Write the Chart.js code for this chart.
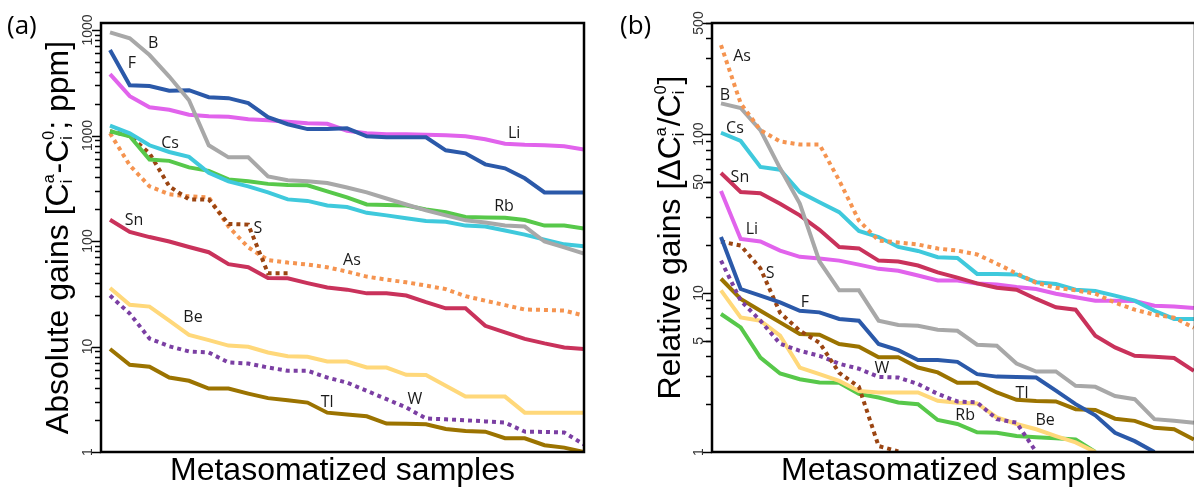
<!DOCTYPE html>
<html>
<head>
<meta charset="utf-8">
<script src="https://cdn.jsdelivr.net/npm/chart.js@4.4.1/dist/chart.umd.min.js"></script>
<style>
  html, body { margin: 0; padding: 0; background: #fff; overflow: hidden; }
  #wrap { position: relative; width: 1194px; height: 488px; overflow: hidden; }
  canvas { position: absolute; top: 0; }
  #absChart { left: 0; }
  #relChart { left: 600px; }
</style>
</head>
<body>
<div id="wrap">
  <canvas id="absChart" width="600" height="488"></canvas>
  <canvas id="relChart" width="620" height="488"></canvas>
</div>
<script>
// sample rank (x) shared by both panels
const samples = Array.from({ length: 25 }, (_, i) => i + 1);

// (a) absolute gains, ppm
const absB  = [9510, 8340, 5790, 3620, 2160, 808, 621, 621, 410, 376, 368, 354, 322, 289, 253, 222, 195, 175, 157, 150, 140, 137, 99, 87, 76];
const absF  = [6460, 3000, 2940, 2660, 2690, 2310, 2260, 2030, 1490, 1280, 1150, 1150, 1170, 984, 962, 962, 962, 724, 678, 533, 489, 393, 289, 289, 289];
const absLi = [3820, 2360, 1855, 1757, 1575, 1524, 1505, 1427, 1396, 1351, 1307, 1293, 1110, 1050, 1028, 1028, 1017, 1005, 984, 921, 835, 817, 808, 790, 735];
const absCs = [1238, 1050, 808, 698, 628, 443, 368, 330, 289, 248, 240, 217, 210, 185, 175, 164, 155, 152, 140, 137, 126, 115, 103, 93, 89];
const absRb = [1097, 984, 591, 575, 499, 462, 384, 368, 348, 340, 337, 295, 259, 222, 220, 217, 199, 187, 169, 167, 166, 158, 140, 140, 131];
const absS  = [1097, 995, 678, 330, 248, 248, 145, 143, 49.4, 49.4];
const absAs = [1050, 522, 330, 277, 265, 259, 137, 87, 66, 62.5, 59.8, 56.4, 51.3, 46, 43, 40.6, 37.8, 35, 30, 27.2, 24.7, 22.4, 22.2, 21.9, 19.6];
const absSn = [159, 122, 109, 98.9, 87.7, 78.3, 60.4, 56.4, 44.5, 44.4, 39.9, 36.2, 34.6, 31.9, 31.9, 30.4, 26.3, 23, 23, 15.7, 13.6, 11.8, 10.7, 9.8, 9.46];
const absBe = [35.9, 24.9, 23.9, 17.6, 12.9, 11.5, 10.2, 9.94, 8.78, 8.08, 7.99, 7.21, 7.21, 6.32, 6.32, 5.39, 5.36, 4.24, 3.35, 3.35, 3.35, 2.36, 2.36, 2.36, 2.36];
const absW  = [30.4, 20.5, 11.9, 10.05, 8.97, 8.78, 7.05, 6.9, 6.32, 5.89, 5.89, 5.08, 4.55, 3.8, 3.17, 2.64, 2.08, 2.04, 2.0, 1.95, 1.9, 1.56, 1.55, 1.53, 1.18];
const absTl = [9.46, 6.71, 6.42, 5.08, 4.73, 3.99, 3.99, 3.58, 3.24, 3.1, 2.94, 2.36, 2.27, 2.18, 1.86, 1.85, 1.83, 1.65, 1.58, 1.56, 1.35, 1.35, 1.16, 1.1, 1.0];

// (b) relative gains
const relAs = [363, 156, 106, 90, 86, 86, 51.1, 28.6, 21.4, 20.8, 20.2, 19.05, 18.5, 17.5, 15.3, 13.3, 11.6, 10.8, 10.4, 9.91, 8.7, 7.86, 7.31, 7.0, 6.05];
const relB  = [156, 146, 106, 60.9, 36.6, 15.8, 10.4, 10.4, 6.7, 6.29, 6.23, 5.88, 5.79, 4.73, 4.66, 3.6, 3.21, 3.21, 2.61, 2.57, 2.25, 2.15, 1.61, 1.57, 1.53];
const relCs = [102, 90.5, 62.1, 59.7, 43.2, 37.3, 32.3, 24.6, 22.5, 19.5, 18.4, 16.8, 16.6, 13.2, 13.2, 13.1, 11.7, 11.4, 10.5, 10.3, 9.63, 8.96, 7.74, 6.87, 6.87];
const relSn = [56.9, 43.2, 42.5, 36.5, 30.8, 25.0, 19.5, 19.1, 16.0, 15.8, 14.9, 13.5, 12.5, 11.5, 10.8, 10.5, 9.18, 8.13, 7.86, 5.39, 4.55, 4.03, 3.97, 3.9, 3.24];
const relLi = [43.8, 21.9, 21.1, 18.5, 16.9, 16.5, 16.0, 15.1, 14.2, 13.8, 12.9, 12.0, 12.0, 11.5, 11.3, 10.9, 10.6, 9.91, 9.42, 8.96, 8.94, 8.92, 8.33, 8.22, 8.05];
const relF  = [22.5, 10.6, 9.63, 8.74, 7.74, 7.56, 6.87, 6.7, 4.78, 4.37, 3.79, 3.79, 3.69, 3.09, 2.98, 2.96, 2.94, 2.43, 2.0, 1.7, 1.32, 1.17, 1.0];
const relS  = [21.1, 19.9, 14.3, 7.52, 5.79, 4.87, 3.15, 2.57, 1.09, 1.01];
const relW  = [16.0, 8.96, 6.7, 4.8, 4.33, 4.03, 3.59, 3.34, 2.97, 2.94, 2.68, 2.32, 2.08, 2.05, 1.61, 1.53, 1.0];
const relTl = [12.3, 9.18, 7.74, 6.54, 5.52, 5.47, 4.78, 4.59, 3.94, 3.94, 3.4, 3.17, 2.73, 2.73, 2.37, 2.13, 2.09, 2.08, 1.86, 1.84, 1.62, 1.57, 1.42, 1.39, 1.2];
const relBe = [10.4, 7.03, 6.7, 5.39, 3.4, 3.09, 2.8, 2.42, 2.37, 2.37, 2.37, 2.1, 2.04, 2.02, 1.65, 1.5, 1.39, 1.26, 1.15, 1.0];
const relRb = [7.38, 6.08, 3.93, 3.12, 2.87, 2.74, 2.73, 2.32, 2.2, 2.05, 2.0, 1.59, 1.5, 1.33, 1.32, 1.26, 1.24, 1.22, 1.2, 1.0];

// y tick values and their printed labels
const absTickValues = [1, 10, 100, 1000, 10000];
const absTickLabels = ['1', '10', '100', '1000', '1000'];
const relTickValues = [1, 5, 10, 50, 100, 500];
const relTickLabels = ['1', '5', '10', '50', '100', '500'];

// element names written next to the curves: [name, sample, value]
const absNames = [['B', 3.18, 7520], ['F', 2.11, 4855], ['Cs', 4.04, 844], ['Li', 21.46, 1050], ['Rb', 20.95, 213],
  ['S', 8.49, 131], ['As', 13.25, 65.3], ['Sn', 2.22, 157], ['Be', 5.2, 18.8], ['Tl', 11.99, 2.92], ['W', 16.44, 3.12]];
const relNames = [['As', 2.07, 309], ['B', 1.2, 176], ['Cs', 1.71, 109], ['Sn', 1.96, 53.4], ['Li', 2.57, 25.1],
  ['S', 3.49, 13.3], ['F', 5.26, 8.7], ['W', 9.17, 3.34], ['Tl', 16.28, 2.32], ['Rb', 13.39, 1.69], ['Be', 17.45, 1.57]];

const colors = {
  B: '#a8a8a8', F: '#2b59a9', Li: '#e163ec', Cs: '#3fc9dc', Rb: '#57c84a', Sn: '#c9325b',
  Be: '#ffd87a', Tl: '#9b7300', S: '#9b4512', As: '#f59450', W: '#7b3fa3'
};
const dotted = ['S', 'As', 'W'];

function series(name, values) {
  return {
    label: name,
    data: values.map((v, i) => ({ x: samples[i], y: v })),
    borderColor: colors[name],
    borderWidth: 4,
    borderDash: dotted.includes(name) ? [4, 4] : [],
    borderCapStyle: 'butt',
    pointRadius: 0,
    tension: 0,
    fill: false
  };
}

function logMinors(maxValue) {
  const out = [];
  for (let d = 1; d < maxValue; d *= 10) {
    for (let k = 2; k <= 9; k++) if (k * d <= maxValue) out.push(k * d);
  }
  return out;
}

// text with stacked sub/superscripts, centred on the origin, baseline at y=0
function drawRich(ctx, parts, size) {
  const big = size + 'px "Liberation Sans", Arial, sans-serif';
  const small = Math.round(size * 0.5) + 'px "Liberation Sans", Arial, sans-serif';
  const widths = parts.map(p => {
    if (typeof p === 'string') { ctx.font = big; return ctx.measureText(p).width; }
    ctx.font = small;
    return Math.max(ctx.measureText(p.sub).width, ctx.measureText(p.sup).width) + 1;
  });
  let x = -widths.reduce((s, w) => s + w, 0) / 2;
  ctx.textAlign = 'left';
  ctx.textBaseline = 'alphabetic';
  parts.forEach((p, i) => {
    if (typeof p === 'string') {
      ctx.font = big;
      ctx.fillText(p, x, 0);
    } else {
      ctx.font = small;
      ctx.fillText(p.sup, x, -size * 0.45);
      ctx.fillText(p.sub, x, size * 0.13);
    }
    x += widths[i];
  });
}

function makeDecor(cfg) {
  return {
    id: 'decor',
    afterDraw(chart) {
      const { ctx, chartArea: a, scales: { x, y } } = chart;
      ctx.save();
      ctx.fillStyle = '#000';
      ctx.strokeStyle = '#000';

      // box around the plot
      ctx.lineWidth = 2.5;
      ctx.strokeRect(a.left, a.top, a.right - a.left, a.bottom - a.top);

      // outward tick marks on the log axis
      ctx.lineWidth = 1.5;
      const tick = (v, len) => {
        const py = Math.round(y.getPixelForValue(v)) + 0.5;
        ctx.beginPath();
        ctx.moveTo(a.left - len, py);
        ctx.lineTo(a.left, py);
        ctx.stroke();
      };
      logMinors(cfg.yMax).forEach(v => tick(v, 6));
      cfg.tickValues.forEach(v => tick(v, 9));

      // rotated tick labels
      ctx.fillStyle = '#333';
      ctx.font = '14px "Liberation Sans", Arial, sans-serif';
      ctx.textAlign = 'center';
      ctx.textBaseline = 'alphabetic';
      cfg.tickValues.forEach((v, i) => {
        ctx.save();
        ctx.translate(a.left - 9, y.getPixelForValue(v));
        ctx.rotate(-Math.PI / 2);
        ctx.fillText(cfg.tickLabels[i], 0, 0);
        ctx.restore();
      });

      // axis titles
      ctx.fillStyle = '#000';
      ctx.save();
      ctx.translate(a.left - cfg.titleGap, (a.top + a.bottom) / 2);
      ctx.rotate(-Math.PI / 2);
      drawRich(ctx, cfg.yTitle, 32);
      ctx.restore();

      ctx.font = '32px "Liberation Sans", Arial, sans-serif';
      ctx.textAlign = 'center';
      ctx.fillText('Metasomatized samples', (a.left + a.right) / 2, a.bottom + 28);

      // panel letter
      ctx.font = '26px "Open Sans", sans-serif';
      ctx.textAlign = 'left';
      ctx.fillText(cfg.panel, cfg.panelX, 34);

      // curve names
      ctx.font = '16px "Open Sans", sans-serif';
      ctx.fillStyle = '#1a1a1a';
      ctx.textAlign = 'center';
      ctx.textBaseline = 'middle';
      cfg.names.forEach(([t, sx, sv]) => {
        ctx.fillText(t, x.getPixelForValue(sx), y.getPixelForValue(sv));
      });
      ctx.restore();
    }
  };
}

function buildChart(id, datasets, pad, xMax, yMax, decor) {
  return new Chart(document.getElementById(id), {
    type: 'line',
    data: { datasets },
    options: {
      responsive: false,
      animation: false,
      events: [],
      layout: { padding: pad },
      plugins: { legend: { display: false }, tooltip: { enabled: false } },
      scales: {
        x: { type: 'linear', min: 0.544, max: xMax, display: false },
        y: { type: 'logarithmic', min: 1, max: yMax, display: false }
      }
    },
    plugins: [makeDecor(Object.assign({ yMax }, decor))]
  });
}

buildChart('absChart', [
  series('B', absB), series('F', absF), series('Li', absLi), series('Cs', absCs), series('Rb', absRb),
  series('S', absS), series('As', absAs), series('Sn', absSn), series('Be', absBe), series('W', absW), series('Tl', absTl)
], { left: 101, top: 23, right: 16, bottom: 36 }, 25, 11657, {
  tickValues: absTickValues, tickLabels: absTickLabels, names: absNames,
  panel: '(a)', panelX: 7, titleGap: 33,
  yTitle: ['Absolute gains [C', { sub: 'i', sup: 'a' }, '-C', { sub: 'i', sup: '0' }, '; ppm]']
});

buildChart('relChart', [
  series('As', relAs), series('B', relB), series('Cs', relCs), series('Sn', relSn), series('Li', relLi),
  series('F', relF), series('S', relS), series('W', relW), series('Tl', relTl), series('Be', relBe), series('Rb', relRb)
], { left: 112, top: 23, right: 25, bottom: 36 }, 25.06, 500, {
  tickValues: relTickValues, tickLabels: relTickLabels, names: relNames,
  panel: '(b)', panelX: 20, titleGap: 32,
  yTitle: ['Relative gains [\u0394C', { sub: 'i', sup: 'a' }, '/C', { sub: 'i', sup: '0' }, ']']
});
</script>
</body>
</html>
